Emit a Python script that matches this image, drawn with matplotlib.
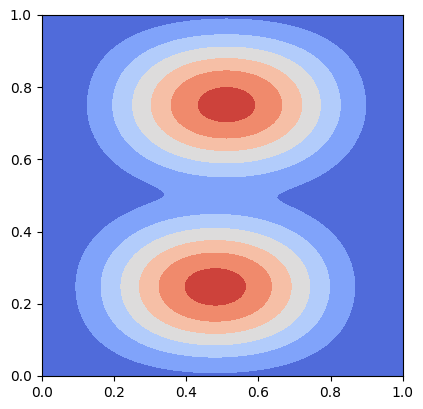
import numpy as np
import matplotlib
matplotlib.use("Agg")
import matplotlib.pyplot as plt

# two bumps
centre_x = [0.512, 0.481]
centre_y = [0.750, 0.248]
width_x = [0.315, 0.315]
width_y_outer = [0.195, 0.195]   # side facing the plot edge
width_y_inner = [0.184, 0.184]   # side facing the other bump
amplitude = [0.958, 0.966]
quartic = 0.16      # how much steeper than a gaussian the outer tails fall
blend = 2.7         # soft maximum of the two bumps
levels = [0.0, 0.15, 0.30, 0.45, 0.60, 0.75, 0.90, 1.05]

x = np.linspace(0, 1, 400)
y = np.linspace(0, 1, 400)
X, Y = np.meshgrid(x, y)
Z = np.zeros_like(X)
for i in range(len(centre_x)):
    u = ((X - centre_x[i]) / width_x[i]) ** 2
    dy = Y - centre_y[i]
    v_out = (dy / width_y_outer[i]) ** 2
    v_in = (dy / width_y_inner[i]) ** 2
    facing_middle = dy * (0.5 - centre_y[i]) > 0
    v = np.where(facing_middle, v_in, v_out + quartic * v_out ** 2)
    bump = amplitude[i] * np.exp(-(u + quartic * u ** 2 + v))
    Z += bump ** blend
Z = Z ** (1 / blend)

fig = plt.figure(figsize=(4.23, 4.09), dpi=100)
ax = fig.add_axes([0.0977, 0.0807, 0.855, 0.883])
ax.contourf(X, Y, Z, levels=levels, cmap="coolwarm")
ax.set_xlim(0, 1)
ax.set_ylim(0, 1)
ax.set_aspect("equal")
fig.savefig("out.png", dpi=100)
